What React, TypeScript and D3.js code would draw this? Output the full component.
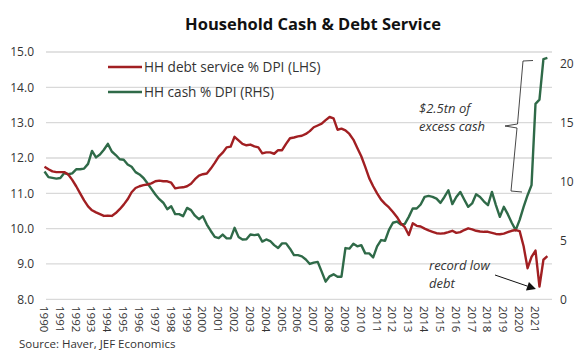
import React from 'react';
import * as d3 from 'd3';

// ---------- data (quarterly, 1990Q1 .. 2021Q4) ----------
const START_YEAR = 1990;
const yearLabels = d3.range(1990, 2022).map(String);
const leftTicks = [8, 9, 10, 11, 12, 13, 14, 15];
const rightTicks = [0, 5, 10, 15, 20];

const debtService = [
  11.75, 11.68, 11.62, 11.6, // 1990
  11.6, 11.6, 11.53, 11.38, // 1991
  11.2, 11.0, 10.8, 10.63, // 1992
  10.52, 10.46, 10.41, 10.36, // 1993
  10.37, 10.36, 10.44, 10.55, // 1994
  10.68, 10.83, 11.03, 11.15, // 1995
  11.2, 11.23, 11.25, 11.28, // 1996
  11.34, 11.36, 11.34, 11.34, // 1997
  11.3, 11.14, 11.16, 11.17, // 1998
  11.2, 11.27, 11.4, 11.5, // 1999
  11.54, 11.56, 11.7, 11.86, // 2000
  12.04, 12.15, 12.3, 12.32, // 2001
  12.6, 12.5, 12.4, 12.36, // 2002
  12.38, 12.33, 12.3, 12.13, // 2003
  12.16, 12.16, 12.12, 12.22, // 2004
  12.22, 12.4, 12.56, 12.58, // 2005
  12.61, 12.63, 12.68, 12.76, // 2006
  12.87, 12.92, 12.97, 13.07, // 2007
  13.16, 13.12, 12.8, 12.83, // 2008
  12.78, 12.68, 12.52, 12.28, // 2009
  12.05, 11.75, 11.43, 11.2, // 2010
  11.0, 10.82, 10.7, 10.6, // 2011
  10.47, 10.33, 10.15, 10.04, // 2012
  9.82, 10.15, 10.08, 10.06, // 2013
  10.0, 9.95, 9.91, 9.87, // 2014
  9.86, 9.87, 9.9, 9.94, // 2015
  9.88, 9.9, 9.96, 10.01, // 2016
  9.98, 9.94, 9.92, 9.91, // 2017
  9.91, 9.88, 9.85, 9.84, // 2018
  9.86, 9.9, 9.94, 9.96, // 2019
  9.93, 9.5, 8.88, 9.2, // 2020
  9.38, 8.36, 9.12, 9.22, // 2021
];

const cashDPI = [
  10.85, 10.37, 10.31, 10.25, // 1990
  10.3, 10.72, 10.62, 10.7, // 1991
  11.04, 11.04, 11.1, 11.5, // 1992
  12.6, 12.05, 12.3, 12.7, // 1993
  13.2, 12.55, 12.25, 11.89, // 1994
  11.85, 11.45, 11.25, 10.8, // 1995
  10.6, 10.3, 9.85, 9.38, // 1996
  8.9, 8.5, 8.2, 7.65, // 1997
  7.9, 7.23, 7.23, 7.06, // 1998
  7.76, 7.57, 7.1, 6.8, // 1999
  7.06, 6.35, 5.8, 5.3, // 2000
  5.2, 5.5, 5.17, 5.17, // 2001
  6.07, 5.3, 5.08, 5.1, // 2002
  5.5, 5.45, 5.5, 4.9, // 2003
  5.08, 4.95, 4.6, 4.35, // 2004
  4.75, 4.75, 4.3, 3.75, // 2005
  3.75, 3.65, 3.38, 3.0, // 2006
  3.12, 3.18, 2.35, 1.5, // 2007
  1.95, 2.12, 1.92, 1.92, // 2008
  4.35, 4.3, 4.72, 4.5, // 2009
  4.6, 3.9, 3.9, 3.56, // 2010
  4.5, 5.03, 4.97, 5.9, // 2011
  6.5, 6.6, 6.35, 6.4, // 2012
  7.0, 7.71, 7.71, 8.05, // 2013
  8.7, 8.78, 8.7, 8.55, // 2014
  8.19, 8.69, 9.26, 8.08, // 2015
  8.69, 9.12, 8.47, 7.85, // 2016
  8.14, 8.92, 8.69, 8.3, // 2017
  7.99, 9.12, 8.0, 7.0, // 2018
  7.85, 7.23, 6.5, 5.87, // 2019
  6.75, 7.85, 8.84, 9.7, // 2020
  16.6, 16.95, 20.4, 20.5, // 2021
];

const titleText = 'Household Cash & Debt Service';
const legendLabels = ['HH debt service % DPI (LHS)', 'HH cash % DPI (RHS)'];
const sourceText = 'Source: Haver, JEF Economics';
const cashNote = ['$2.5tn of', 'excess cash'];
const debtNote = ['record low', 'debt'];

const RED = '#a11f22';
const GREEN = '#2f6a48';
const TEXT = '#333333';
const GRID = '#d9d9d9';
const FONT = "'Open Sans', 'DejaVu Sans', sans-serif";

export default function App() {
  const W = 582;
  const H = 355;
  const plotLeft = 46;
  const plotRight = 552;

  const x = d3.scaleLinear().domain([1990, 2021]).range([44.5, 535.5]);
  const yL = d3.scaleLinear().domain([8, 15]).range([299.3, 52]);
  const yR = d3.scaleLinear().domain([0, 21]).range([299.3, 52]);
  const tq = (i: number) => START_YEAR + i / 4;

  const lineL = d3
    .line<number>()
    .x((_, i) => x(tq(i)))
    .y((d) => yL(d));
  const lineR = d3
    .line<number>()
    .x((_, i) => x(tq(i)))
    .y((d) => yR(d));

  // annotation anchors
  const lowIdx = debtService.indexOf(d3.min(debtService) as number);
  const tipX = x(tq(lowIdx)) - 3.5;
  const tipY = yL(debtService[lowIdx]) + 2.5;
  const arrowStart = { x: 495, y: 275 };
  const ang = Math.atan2(tipY - arrowStart.y, tipX - arrowStart.x);
  const ah = 9;
  const aw = 4.5;
  const bx = tipX - ah * Math.cos(ang);
  const by = tipY - ah * Math.sin(ang);
  const p1 = [bx + aw * Math.sin(ang), by - aw * Math.cos(ang)];
  const p2 = [bx - aw * Math.sin(ang), by + aw * Math.cos(ang)];

  const bracePath =
    'M533,60.5 L523,61 L517.5,124 L505,126 L517,128 L511,191 L522,192';

  return (
    <svg
      width={W}
      height={H}
      style={{ position: 'absolute', left: 0, top: 0, background: '#fff' }}
      fontFamily={FONT}
    >
      <rect x={0} y={0} width={W} height={H} fill="#fff" />
      {/* title */}
      <text
        x={313}
        y={30}
        textAnchor="middle"
        fontSize={16.5}
        fontWeight={700}
        fill="#111"
      >
        {titleText}
      </text>

      {/* gridlines */}
      {leftTicks.map((v) => (
        <line
          key={'g' + v}
          x1={plotLeft}
          x2={plotRight}
          y1={yL(v)}
          y2={yL(v)}
          stroke={GRID}
          strokeWidth={1.3}
        />
      ))}

      {/* left ticks */}
      {leftTicks.map((v) => (
        <text
          key={'l' + v}
          x={34}
          y={yL(v)}
          dy="0.35em"
          textAnchor="end"
          fontSize={12}
          fill={TEXT}
        >
          {v.toFixed(1)}
        </text>
      ))}

      {/* right ticks */}
      {rightTicks.map((v) => (
        <text
          key={'r' + v}
          x={560}
          y={yR(v)}
          dy="0.35em"
          textAnchor="start"
          fontSize={12}
          fill={TEXT}
        >
          {v}
        </text>
      ))}

      {/* x labels */}
      {yearLabels.map((lab) => (
        <text
          key={'x' + lab}
          transform={`translate(${x(+lab) - 0.5},306) rotate(90)`}
          dy="0.35em"
          textAnchor="start"
          fontSize={11.5}
          fill={TEXT}
        >
          {lab}
        </text>
      ))}

      {/* series */}
      <path
        d={lineR(cashDPI) || ''}
        fill="none"
        stroke={GREEN}
        strokeWidth={2.4}
        strokeLinejoin="round"
      />
      <path
        d={lineL(debtService) || ''}
        fill="none"
        stroke={RED}
        strokeWidth={2.4}
        strokeLinejoin="round"
      />

      {/* legend */}
      <line x1={108} x2={142} y1={67} y2={67} stroke={RED} strokeWidth={2.6} />
      <text x={144} y={67} dy="0.35em" fontSize={13.6} fill={TEXT}>
        {legendLabels[0]}
      </text>
      <line x1={108} x2={142} y1={92} y2={92} stroke={GREEN} strokeWidth={2.6} />
      <text x={144} y={92} dy="0.35em" fontSize={13.6} fill={TEXT}>
        {legendLabels[1]}
      </text>

      {/* cash annotation */}
      <text x={419} y={113} fontSize={13} fontStyle="italic" fill={TEXT}>
        {cashNote[0]}
      </text>
      <text x={419} y={131} fontSize={13} fontStyle="italic" fill={TEXT}>
        {cashNote[1]}
      </text>
      <path d={bracePath} fill="none" stroke="#333" strokeWidth={0.9} />

      {/* debt annotation */}
      <text x={429} y={270} fontSize={13} fontStyle="italic" fill={TEXT}>
        {debtNote[0]}
      </text>
      <text x={429} y={288} fontSize={13} fontStyle="italic" fill={TEXT}>
        {debtNote[1]}
      </text>
      <line
        x1={arrowStart.x}
        y1={arrowStart.y}
        x2={bx}
        y2={by}
        stroke="#111"
        strokeWidth={1}
      />
      <polygon
        points={`${tipX},${tipY} ${p1[0]},${p1[1]} ${p2[0]},${p2[1]}`}
        fill="#111"
      />

      {/* source */}
      <text x={19} y={348} fontSize={11.5} fill={TEXT}>
        {sourceText}
      </text>
    </svg>
  );
}
